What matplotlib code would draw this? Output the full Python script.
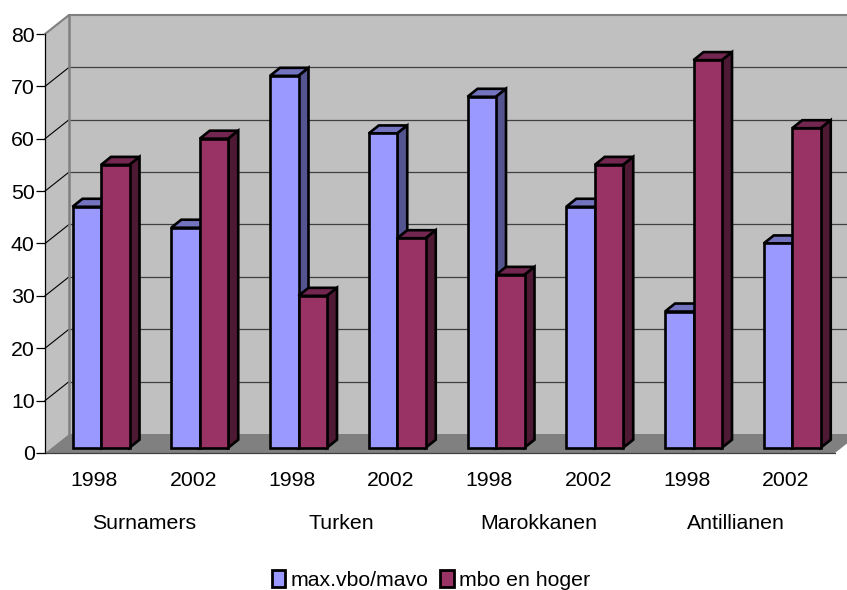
import matplotlib
matplotlib.use('Agg')
import matplotlib.pyplot as plt
from matplotlib.patches import Polygon, Patch

plt.rcParams['font.family'] = ['Liberation Sans', 'DejaVu Sans']

years = ['1998', '2002', '1998', '2002', '1998', '2002', '1998', '2002']
groups = ['Surnamers', 'Turken', 'Marokkanen', 'Antillianen']
low = [46, 42, 71, 60, 67, 46, 26, 39]
high = [54, 59, 29, 40, 33, 54, 74, 61]
low_name = 'max.vbo/mavo'
high_name = 'mbo en hoger'

low_col = ('#9999FF', '#7373BF', '#545490')
high_col = ('#993366', '#732650', '#4D1933')

W, H = 847, 590
fig = plt.figure(figsize=(W / 100, H / 100), dpi=100)
ax = fig.add_axes([45 / W, 1 - 453 / H, 790 / W, 419 / H])
ax.set_xlim(0, 8)
ax.set_ylim(0, 80)
ax.patch.set_alpha(0)

# oblique depth of the chart box, in data units
px_x = 790 / 8
px_y = 419 / 80
wall_dx = 24 / px_x
wall_dy = 19 / px_y
bar_dx = 10 / px_x
bar_dy = 8 / px_y
bar_w = 28.5 / px_x
bar_x = 27.5 / px_x
bar_y = 5.3 / px_y


def poly(pts, face, edge='none', lw=0, z=1):
    ax.add_patch(Polygon(pts, closed=True, facecolor=face, edgecolor=edge,
                         linewidth=lw, zorder=z, clip_on=False, joinstyle='miter'))


# walls and floor
poly([(wall_dx, wall_dy), (8 + wall_dx, wall_dy), (8 + wall_dx, 80 + wall_dy), (wall_dx, 80 + wall_dy)], '#C0C0C0')
poly([(0, 0), (wall_dx, wall_dy), (wall_dx, 80 + wall_dy), (0, 80)], '#C0C0C0')
poly([(0, 0), (8, 0), (8 + wall_dx, wall_dy), (wall_dx, wall_dy)], '#808080')

for v in range(10, 80, 10):
    ax.plot([0, wall_dx], [v, v + wall_dy], color='black', lw=0.8, clip_on=False, zorder=2)
    ax.plot([wall_dx, 8 + wall_dx], [v + wall_dy, v + wall_dy], color='#404040', lw=0.9, clip_on=False, zorder=2)

ax.plot([0, wall_dx, 8 + wall_dx], [80, 80 + wall_dy, 80 + wall_dy], color='#808080', lw=1.5, clip_on=False, zorder=2)
ax.plot([wall_dx, wall_dx], [wall_dy, 80 + wall_dy], color='#808080', lw=1.8, clip_on=False, zorder=2)


def draw_bar(x, val, cols, z):
    y0 = bar_y
    y1 = val + bar_y
    x1 = x + bar_w
    poly([(x, y1), (x1, y1), (x1 + bar_dx, y1 + bar_dy), (x + bar_dx, y1 + bar_dy)], cols[1], 'black', 1.9, z)
    poly([(x1, y0), (x1 + bar_dx, y0 + bar_dy), (x1 + bar_dx, y1 + bar_dy), (x1, y1)], cols[2], 'black', 1.9, z)
    poly([(x, y0), (x1, y0), (x1, y1), (x, y1)], cols[0], 'black', 1.9, z)


for i in range(len(years)):
    draw_bar(i + bar_x, low[i], low_col, 3 + i * 2)
    draw_bar(i + bar_x + bar_w, high[i], high_col, 4 + i * 2)

# axes
for s in ['top', 'right']:
    ax.spines[s].set_visible(False)
ax.spines['left'].set_linewidth(0.9)
ax.spines['bottom'].set_linewidth(0.9)
ax.spines['bottom'].set_color('#404040')
ax.spines['left'].set_zorder(30)
ax.spines['bottom'].set_zorder(2.5)

ax.set_yticks(range(0, 90, 10))
ax.tick_params(axis='y', length=6.5, width=0.9, labelsize=15.3, pad=1)
ax.set_xticks([i + 0.5 for i in range(len(years))])
ax.set_xticklabels(years)
ax.tick_params(axis='x', length=0, labelsize=15.3, pad=13)

for i, g in enumerate(groups):
    ax.annotate(g, (2 * i + 1, 0), xytext=(0, -51), textcoords='offset points',
                ha='center', va='center', fontsize=15.3)

handles = [Patch(facecolor=low_col[0], edgecolor='black', linewidth=2, label=low_name),
           Patch(facecolor=high_col[0], edgecolor='black', linewidth=2, label=high_name)]
fig.legend(handles=handles, loc='center', bbox_to_anchor=(431 / W, 1 - 580 / H), ncol=2, frameon=False,
           fontsize=15.3, handlelength=0.65, handleheight=0.85, handletextpad=0.25, columnspacing=0.55,
           borderpad=0, borderaxespad=0)

fig.savefig('out.png', dpi=100)
